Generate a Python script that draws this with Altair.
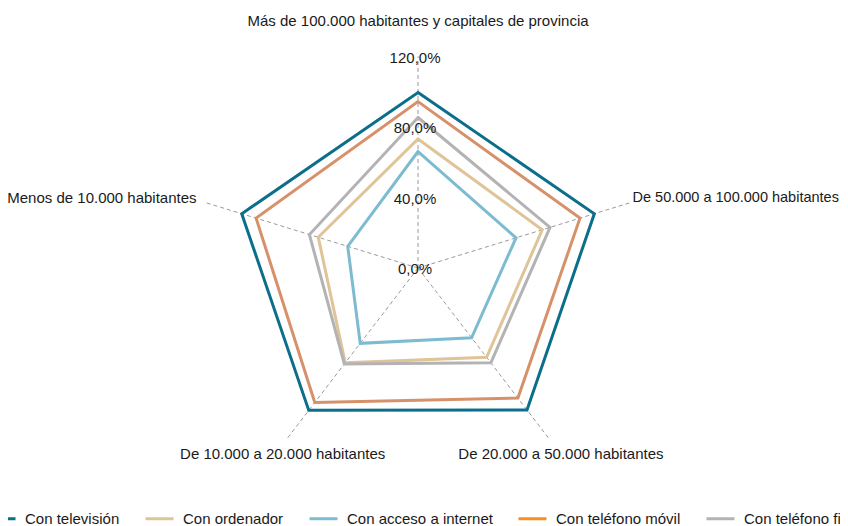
import altair as alt
import pandas as pd

categories = [
    "Más de 100.000 habitantes y capitales de provincia",
    "De 50.000 a 100.000 habitantes",
    "De 20.000 a 50.000 habitantes",
    "De 10.000 a 20.000 habitantes",
    "Menos de 10.000 habitantes",
]
series = ["Con televisión", "Con ordenador", "Con acceso a internet",
          "Con teléfono móvil", "Con teléfono fijo"]

tv = [99.5, 99.5, 99.5, 99.8, 99.5]
ordenador = [73.1, 70.1, 62.6, 66.5, 56.3]
internet = [66.0, 55.3, 48.9, 52.8, 39.7]
movil = [94.3, 91.4, 91.2, 94.3, 91.4]
fijo = [85.3, 74.5, 66.5, 67.3, 61.3]

tick_values = [0, 40, 80, 120]
tick_labels = ["0,0%", "40,0%", "80,0%", "120,0%"]

line_colors = ["#0b6e8a", "#dfc497", "#7dbcd0", "#d7916a", "#b3b3b5"]
legend_colors = ["#0b6e8a", "#dfc497", "#7dbcd0", "#f7901e", "#b3b3b5"]

all_values = [tv, ordenador, internet, movil, fijo]
rows = []
for s, vals in zip(series, all_values):
    for i, (c, v) in enumerate(zip(categories, vals)):
        rows.append({"serie": s, "categoria": c, "idx": i, "valor": v})
df = pd.DataFrame(rows)
cat_df = pd.DataFrame({"categoria": categories, "idx": list(range(len(categories)))})
tick_df = pd.DataFrame({"t": tick_values, "label": tick_labels})

ANG = "PI/2 - datum.idx*2*PI/5"
AXIS_MAX = 120
LABEL_R = 125

W, H = 832, 518
xs = alt.Scale(domain=[-220.1, 226.5], nice=False, zero=False)
ys = alt.Scale(domain=[-146.3, 147.4], nice=False, zero=False)

FONT = "Liberation Sans"
FS = 15
TXT = "#1a1a1a"

spokes = alt.Chart(cat_df).transform_calculate(
    ang=ANG
).transform_calculate(
    ex=f"{AXIS_MAX}*cos(datum.ang)", ey=f"{AXIS_MAX}*sin(datum.ang)", zero="0"
).mark_rule(color="#9a9a9a", strokeDash=[4, 3], strokeWidth=1).encode(
    x=alt.X("zero:Q", scale=xs, axis=None),
    y=alt.Y("zero:Q", scale=ys, axis=None),
    x2="ex:Q", y2="ey:Q",
)

lines = alt.Chart(df).transform_calculate(
    ang=ANG
).transform_calculate(
    px="datum.valor*cos(datum.ang)", py="datum.valor*sin(datum.ang)"
).mark_line(interpolate="linear-closed", strokeWidth=3, strokeJoin="miter").encode(
    x=alt.X("px:Q", scale=xs, axis=None),
    y=alt.Y("py:Q", scale=ys, axis=None),
    color=alt.Color("serie:N", scale=alt.Scale(domain=series, range=line_colors), legend=None),
    order="idx:O",
)

legend_layer = alt.Chart(df).transform_filter("datum.valor > 1000").transform_calculate(
    ang=ANG
).transform_calculate(
    px="datum.valor*cos(datum.ang)", py="datum.valor*sin(datum.ang)"
).mark_line().encode(
    x=alt.X("px:Q", scale=xs, axis=None),
    y=alt.Y("py:Q", scale=ys, axis=None),
    color=alt.Color("serie:N", scale=alt.Scale(domain=series, range=legend_colors),
                    title=None,
                    legend=alt.Legend(orient="none", legendX=-22, legendY=495,
                                      direction="horizontal", columns=5,
                                      symbolType="stroke", symbolSize=784,
                                      symbolStrokeWidth=3, symbolOpacity=1,
                                      labelFont=FONT, labelFontSize=FS, labelColor=TXT,
                                      labelOffset=8, columnPadding=19, padding=0)),
)

ticks = alt.Chart(tick_df).transform_calculate(zero="0").mark_text(
    align="center", baseline="middle", dx=-3, dy=1.5, font=FONT, fontSize=FS, color=TXT
).encode(
    x=alt.X("zero:Q", scale=xs, axis=None),
    y=alt.Y("t:Q", scale=ys, axis=None),
    text="label:N",
)

def cat_labels(filter_expr, size=FS, **mark_kw):
    return alt.Chart(cat_df).transform_filter(filter_expr).transform_calculate(
        ang=ANG
    ).transform_calculate(
        lx=f"{LABEL_R}*cos(datum.ang)", ly=f"{LABEL_R}*sin(datum.ang)"
    ).mark_text(font=FONT, fontSize=size, color=TXT, **mark_kw).encode(
        x=alt.X("lx:Q", scale=xs, axis=None),
        y=alt.Y("ly:Q", scale=ys, axis=None),
        text="categoria:N",
    )

lab_top = cat_labels("datum.idx == 0", align="center", baseline="middle", dy=-27)
lab_right = cat_labels("datum.idx == 1", size=14.5, align="left", baseline="middle", dy=-2, dx=-7)
lab_lowr = cat_labels("datum.idx == 2", align="center", baseline="middle", dy=8, dx=6)
lab_lowl = cat_labels("datum.idx == 3", align="center", baseline="middle", dy=8, dx=1.5)
lab_left = cat_labels("datum.idx == 4", align="right", baseline="middle", dy=-2)

chart = alt.layer(
    spokes, lines, legend_layer, ticks, lab_top, lab_right, lab_lowr, lab_lowl, lab_left
).resolve_scale(color="independent").properties(
    width=W, height=H, padding=0,
    autosize=alt.AutoSizeParams(type="none"),
).configure_view(strokeWidth=0)

chart.save("out.html", embed_options={"renderer": "svg", "actions": False})
